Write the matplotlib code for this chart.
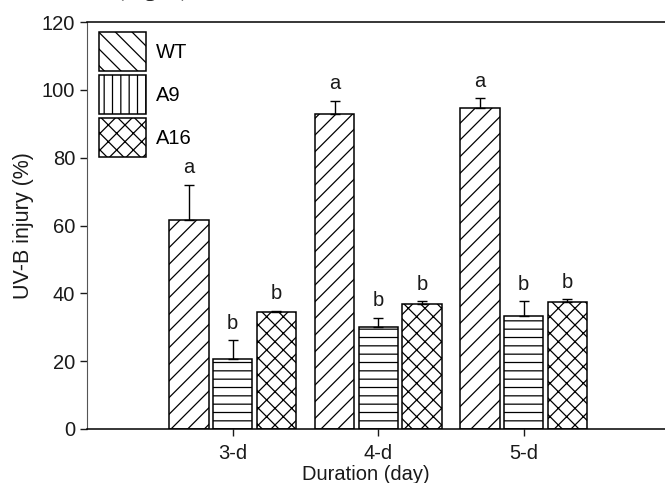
import numpy as np
import matplotlib
matplotlib.use("Agg")
import matplotlib.pyplot as plt
from matplotlib.patches import Patch

plt.rcParams['font.family'] = ['Liberation Sans', 'DejaVu Sans']
plt.rcParams['hatch.linewidth'] = 0.9

# data
durations = ["3-d", "4-d", "5-d"]
lines = ["WT", "A9", "A16"]
wt_mean = [61.5, 92.8, 94.6]
wt_err = [10.5, 4.0, 3.0]
a9_mean = [20.5, 30.0, 33.4]
a9_err = [5.7, 2.8, 4.2]
a16_mean = [34.4, 36.9, 37.3]
a16_err = [0.5, 0.8, 1.0]
wt_letters = ["a", "a", "a"]
a9_letters = ["b", "b", "b"]
a16_letters = ["b", "b", "b"]

means = [wt_mean, a9_mean, a16_mean]
errs = [wt_err, a9_err, a16_err]
letters = [wt_letters, a9_letters, a16_letters]
bar_hatch = ["//", "--", "xx"]
legend_hatch = ["\\\\", "||", "xx"]

fig = plt.figure(figsize=(6.65, 4.83), dpi=100)
ax = fig.add_axes([0.131, 0.112, 0.869, 0.842])

x = np.arange(1, len(durations) + 1)
offsets = [-0.3, 0.0, 0.3]
width = 0.27

for i in range(3):
    xs = x + offsets[i]
    ax.bar(xs, means[i], width, color="white", edgecolor="black",
           hatch=bar_hatch[i], linewidth=1.1, zorder=2)
    ax.errorbar(xs, means[i], yerr=[np.zeros(3), errs[i]], fmt="none",
                ecolor="black", elinewidth=1.0, capsize=3.5, capthick=1.0, zorder=3)
    for xi, m, e, lab in zip(xs, means[i], errs[i], letters[i]):
        ax.text(xi, m + e + 2.2, lab, ha="center", va="bottom", fontsize=14.5, color="#1a1a1a")

ax.set_xlim(0, 3.97)
ax.set_ylim(0, 120)
ax.set_xticks(x)
ax.set_xticklabels(durations)
ax.set_yticks(np.arange(0, 121, 20))
ax.tick_params(axis="both", direction="out", length=5, width=1, labelsize=14.5,
               colors="#1a1a1a")
ax.tick_params(axis="x", pad=6)
ax.spines["right"].set_visible(False)
ax.spines["left"].set_color("#555555")
for s in ["top", "bottom"]:
    ax.spines[s].set_linewidth(1.1)

ax.set_ylabel("UV-B injury (%)", fontsize=15.5, color="#1a1a1a", labelpad=6)
ax.set_xlabel("Duration (day)", fontsize=14.5, color="#1a1a1a")
ax.xaxis.set_label_coords(0.483, -0.088, transform=ax.transAxes)

handles = [Patch(facecolor="white", edgecolor="black", hatch=h, linewidth=1.1)
           for h in legend_hatch]
ax.legend(handles, lines, loc="upper left", bbox_to_anchor=(0.02, 0.975),
          frameon=False, fontsize=14.5, handlelength=2.35, handleheight=2.6,
          labelspacing=0.2, borderpad=0, borderaxespad=0, handletextpad=0.5)

# caption sits mostly above the picture, only its descenders show
fig.text(0.23, 1.008, "(Fig. 2)", family="Liberation Serif", fontsize=17.5,
         ha="center", va="baseline", color="#1a1a1a")

fig.savefig("out.png", dpi=100)
